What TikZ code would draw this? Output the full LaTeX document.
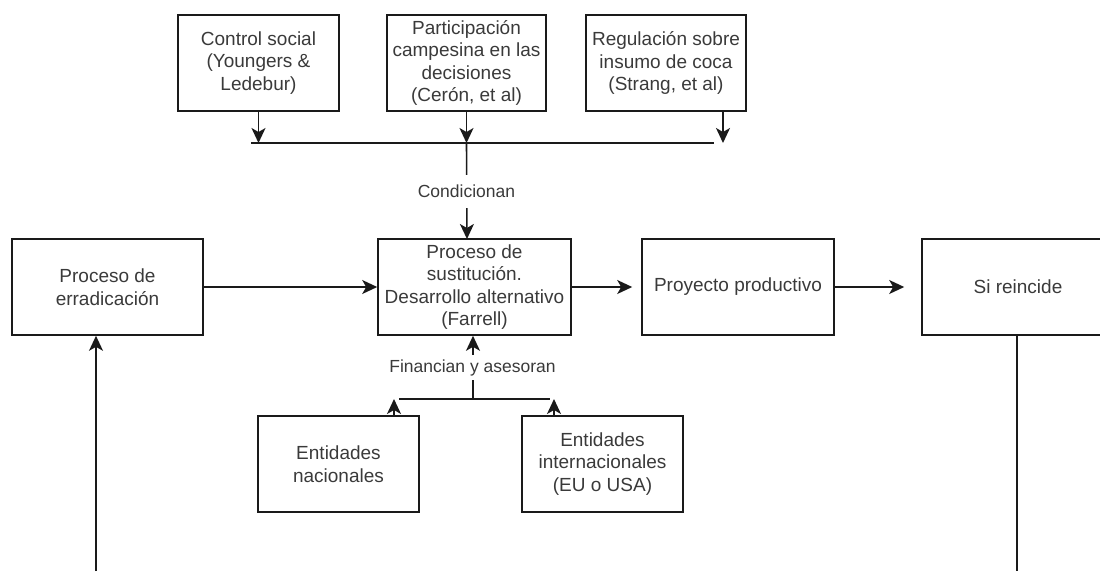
\documentclass[tikz,border=0pt]{standalone}
\usepackage{fontspec}
\setmainfont{Liberation Sans}
\usetikzlibrary{arrows.meta}
\definecolor{txt}{HTML}{3A3A3A}
\definecolor{ln}{HTML}{1A1A1A}
\begin{document}
\begin{tikzpicture}[x=1pt,y=-1pt,
  box/.style={draw=ln,line width=1.6pt,minimum width=#1,minimum height=96pt,inner sep=0pt,align=center,text=txt,font=\fontsize{19}{22.5}\selectfont},
  box/.default=192pt,
  lbl/.style={fill=white,text=txt,font=\fontsize{17.5}{20}\selectfont,inner xsep=1pt,inner ysep=0pt},
  conn/.style={draw=ln,line width=1.6pt},
  arr/.style={conn,-{Stealth[length=15pt,width=14pt,inset=4pt]}}]
\useasboundingbox (0,0) rectangle (1100,571);
\clip (0,0) rectangle (1100,571);
% top boxes
\node[box=161pt] (cs) at (258.5,63) {Control social\\(Youngers \&\\Ledebur)};
\node[box=159pt] (part) at (466.5,63) {Participación\\campesina en las\\decisiones\\(Cerón, et al)};
\node[box=160pt] (reg) at (666,63) {Regulación sobre\\insumo de coca\\(Strang, et al)};
% main row
\node[box=191pt] (err) at (107.5,287) {Proceso de\\erradicación};
\node[box=193pt] (sust) at (474.5,287) {Proceso de\\sustitución.\\Desarrollo alternativo\\(Farrell)};
\node[box] (proy) at (738,287) {Proyecto productivo};
\node[box] (si) at (1018,287) {Si reincide};
% bottom boxes
\node[box=161pt] (nac) at (338.5,464) {Entidades\\nacionales};
\node[box=161pt] (inter) at (602.5,464) {Entidades\\internacionales\\(EU o USA)};
% top junction
\coordinate (jl) at (251,143);
\coordinate (jr) at (714,143);
\coordinate (jc) at (466.5,143);
\coordinate (regx) at (723,111);
\draw[conn] (jl) -- (jr);
\draw[arr] (cs.south) -- (cs.south |- jl);
\draw[arr] (part.south) -- (part.south |- jl);
\draw[arr] (regx) -- (regx |- jl);
\coordinate (sustin) at (467,239);
\draw[arr] (jc) -- (sustin);
\node[lbl,minimum height=33pt] (cond) at (466.5,191) {Condicionan};
% main row arrows
\draw[arr] (err.east) -- (sust.west);
\draw[arr,shorten >=9pt] (sust.east) -- (proy.west);
\draw[arr,shorten >=17pt] (proy.east) -- (si.west);
% bottom junction
\coordinate (bl) at (399,399);
\coordinate (br) at (550,399);
\coordinate (bc) at (473,399);
\coordinate (nacx) at (394,416);
\coordinate (intx) at (554,416);
\draw[conn] (bl) -- (br);
\draw[arr] (bc) -- (bc |- sust.south);
\node[lbl,minimum height=25pt] (fin) at (472.5,367.5) {Financian y asesoran};
\draw[arr] (nacx) -- (nacx |- bl);
\draw[arr] (intx) -- (intx |- bl);
% long lines
\coordinate (lb) at (96,571);
\coordinate (rb) at (1017,571);
\draw[arr] (lb) -- (lb |- err.south);
\draw[conn] (rb |- si.south) -- (rb);
\end{tikzpicture}
\end{document}
